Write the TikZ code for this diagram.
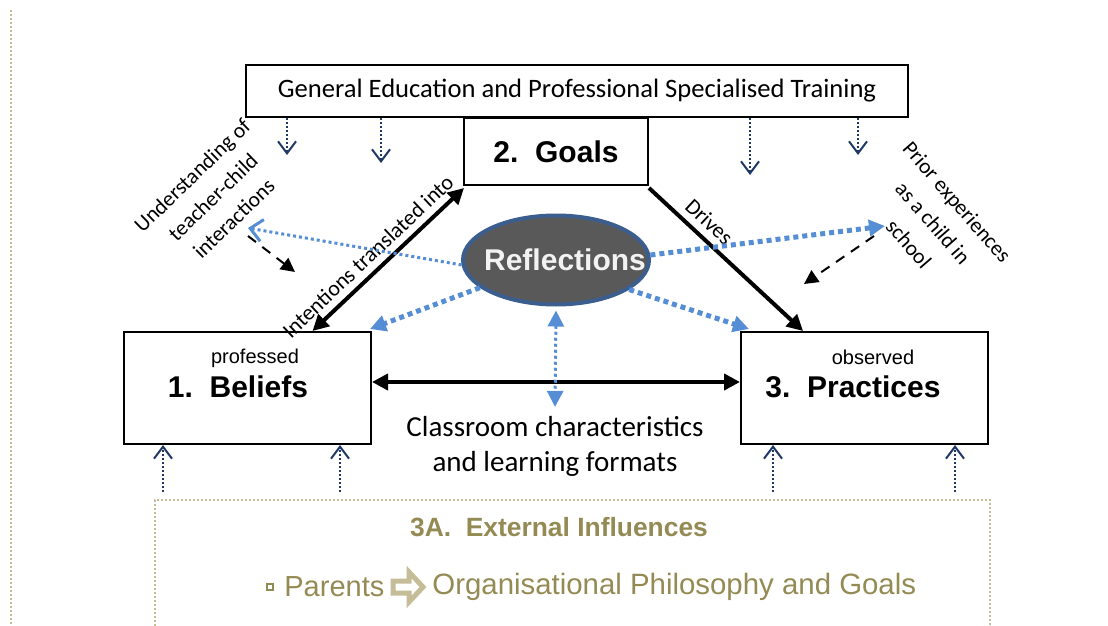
\documentclass[tikz,border=0pt]{standalone}
\usepackage{fontspec}
\setmainfont{Carlito}
\newfontfamily\arialfont{Liberation Sans}
\usetikzlibrary{arrows.meta,shapes.geometric}
\definecolor{navyarrow}{HTML}{1F3864}
\definecolor{reflblue}{HTML}{558ED5}
\definecolor{reflborder}{HTML}{3B5E8F}
\definecolor{reflfill}{HTML}{595959}
\definecolor{tantext}{HTML}{948A54}
\definecolor{tanlight}{HTML}{C4BD97}
\tikzset{
  box/.style={draw, line width=1pt, rectangle, inner sep=0pt},
  boxtitle/.style={font=\arialfont\bfseries\fontsize{15}{18}\selectfont},
  boxsub/.style={font=\arialfont\fontsize{10}{12}\selectfont},
  mainarrow/.style={line width=2pt, -{Triangle[length=8pt,width=8pt]}},
  dblarrow/.style={line width=2pt,
    {Triangle[length=8pt,width=8pt]}-{Triangle[length=8pt,width=8pt]}},
  reflarrow/.style={reflblue, line width=2.5pt, dash pattern=on 2.5pt off 2pt,
    -{Triangle[length=8pt,width=8pt]}},
  dasharrow/.style={line width=1pt, dash pattern=on 5pt off 4pt,
    -{Triangle[length=7pt,width=7pt]}},
  trainarrow/.style={navyarrow, line width=1pt, dash pattern=on 1pt off 1pt,
    -{Straight Barb[length=6pt,width=9pt,line width=1pt]}},
  sidelabel/.style={align=center, inner sep=0pt}
}
\begin{document}
\begin{tikzpicture}[x=0.5pt, y=-0.5pt]
    \useasboundingbox (0,0) rectangle (1108,626);
    % page margin line
    \draw [tanlight, line width=1pt, dash pattern=on 1pt off 1pt] (11,10) -- (11,626);
    % boxes
    \node[box, minimum width=331pt, minimum height=26pt] (gen) at (577,91)
    {\fontsize{13.3}{15}\selectfont General Education and Professional Specialised Training};
    \node[box, boxtitle, minimum width=92pt, minimum height=33.5pt] (goals) at (556,151.5)
    {2.\ \ Goals};
    \node[box, minimum width=123.5pt, minimum height=56pt] (beliefs) at (247.5,388) {};
    \node[box, minimum width=123.5pt, minimum height=56pt] (practices) at (864.5,388) {};
    \node[boxsub] (beliefs-sub) at (255,358) {professed};
    \node[boxtitle] (beliefs-title) at (238,387) {1.\ \ Beliefs};
    \node[boxsub] (practices-sub) at (873,357) {observed};
    \node[boxtitle] (practices-title) at (853,387) {3.\ \ Practices};
    % reflections
    \node[ellipse, draw=reflborder, line width=2pt, fill=reflfill, inner sep=0pt,
      minimum width=93pt, minimum height=44.5pt] (refl) at (556,260) {};
    \node[text=white!95!black, font=\arialfont\bfseries\fontsize{15}{18}\selectfont]
    (refl-text) at (565,260) {Reflections};
    % classroom
    \node[align=center, font=\fontsize{14.5}{17.5}\selectfont] (class) at (555,446)
    {Classroom characteristics\\and learning formats};
    % side labels
    \node[sidelabel, rotate=44, font=\fontsize{10.8}{15}\selectfont] (understand) at (213,197)
    {Understanding of\\teacher-child\\interactions};
    \node[sidelabel, rotate=-49, font=\fontsize{10.8}{16}\selectfont] (prior) at (933,223)
    {Prior experiences\\as a child in\\school};
    % free ends
    \coordinate (understand-tip) at (248,228);
    \coordinate (prior-tip)      at (885,226);
    \coordinate (left-dash-beg)  at (248,236);
    \coordinate (left-dash-end)  at (295,272);
    \coordinate (right-dash-beg) at (874,236);
    \coordinate (right-dash-end) at (804,284);
    % main arrows
    \draw [dblarrow] ([xshift=32.5pt]beliefs.north) --
    node[pos=0.44, sloped, above, font=\fontsize{11}{13}\selectfont] {Intentions translated into}
    ([xshift=0.5pt,yshift=-1pt]goals.south west);
    \draw [mainarrow] ([yshift=-1pt]goals.south east) --
    node[pos=0.32, sloped, above, font=\fontsize{11}{13}\selectfont] {Drives}
    ([xshift=-30.75pt]practices.north);
    \draw [dblarrow] ([yshift=3pt]beliefs.east) --
    ([yshift=3pt]practices.east -| practices.west);
    % reflection arrows
    \draw [reflblue, line width=1.5pt, dash pattern=on 1.5pt off 1.5pt,
      -{Straight Barb[length=6pt,width=11pt,line width=1.5pt]}] (refl.183) -- (understand-tip);
    \draw [reflarrow] (refl.200) -- ([xshift=-1pt,yshift=1pt]beliefs.north east);
    \draw [reflarrow] (refl.3) -- (prior-tip);
    \draw [reflarrow] (refl.338) -- ([xshift=4.5pt,yshift=1pt]practices.north west);
    \draw [reflarrow, line width=1.5pt, dash pattern=on 1.5pt off 1.5pt,
      {Triangle[length=8pt,width=8pt]}-{Triangle[length=8pt,width=8pt]}]
    ([yshift=-2pt]refl.south) -- ([yshift=1pt]class.north);
    % experience arrows
    \draw [dasharrow] (left-dash-beg) -- (left-dash-end);
    \draw [dasharrow] (right-dash-beg) -- (right-dash-end);
    % training arrows
    \foreach \x/\y in {287/155, 381/163, 750/175, 858/155}
    \draw [trainarrow] (gen.south -| \x,0) -- (\x,\y);
    % external influence arrows
    \foreach \x in {163, 340}
    \draw [trainarrow] (\x,492) -- (beliefs.south -| \x,0);
    \foreach \x in {773, 955}
    \draw [trainarrow] (\x,492) -- (practices.south -| \x,0);
    % external influences
    \draw [tanlight, line width=1pt, dash pattern=on 1pt off 1pt]
    (155,626) -- (155,500) -- (990,500) -- (990,626);
    \node[text=tantext, font=\arialfont\bfseries\fontsize{13.2}{15}\selectfont] (ext) at (559,527)
    {3A.\ \ External Influences};
    \draw [tantext, line width=0.6pt] (267,584) rectangle (273,590);
    \node[text=tantext, anchor=west, inner sep=0pt, font=\arialfont\fontsize{14.5}{17}\selectfont]
    (parents) at (284,587) {Parents};
    \draw [tanlight, line width=2.5pt, fill=white, line join=miter]
    (393,581) -- (409,581) -- (409,572) -- (423,587) -- (409,602) -- (409,593) -- (393,593) -- cycle;
    \node[text=tantext, anchor=west, inner sep=0pt, font=\arialfont\fontsize{14.7}{17}\selectfont]
    (philo) at (432,587) {Organisational Philosophy and Goals};
\end{tikzpicture}
\end{document}
